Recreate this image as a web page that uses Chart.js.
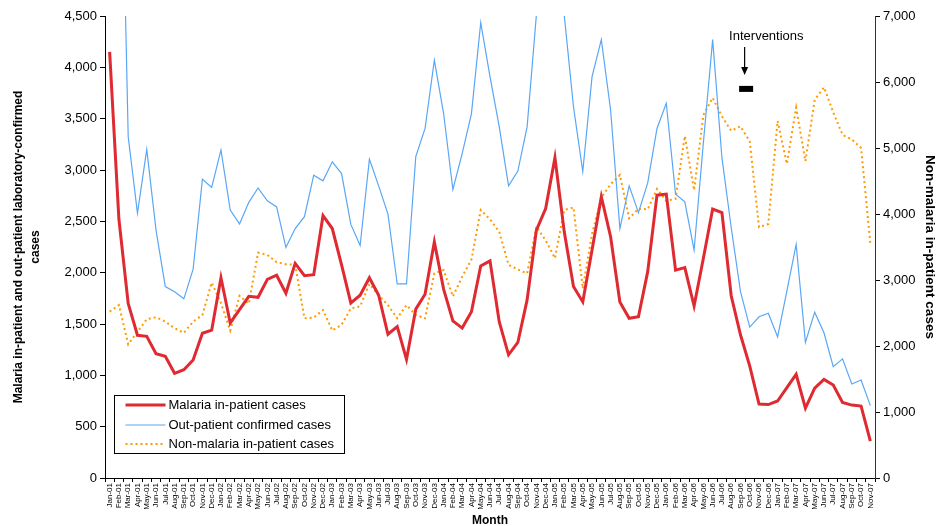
<!DOCTYPE html>
<html>
<head>
<meta charset="utf-8">
<script src="https://cdn.jsdelivr.net/npm/chart.js@4.4.1/dist/chart.umd.min.js"></script>
<style>
  html, body { margin: 0; padding: 0; background: #fff; }
  #wrap { position: relative; width: 938px; height: 526px; }
</style>
</head>
<body>
<div id="wrap"><canvas id="chart" width="938" height="526"></canvas></div>
<script>
// --- Data ---
const months = [
  'Jan-01','Feb-01','Mar-01','Apr-01','May-01','Jun-01','Jul-01','Aug-01','Sep-01','Oct-01','Nov-01','Dec-01',
  'Jan-02','Feb-02','Mar-02','Apr-02','May-02','Jun-02','Jul-02','Aug-02','Sep-02','Oct-02','Nov-02','Dec-02',
  'Jan-03','Feb-03','Mar-03','Apr-03','May-03','Jun-03','Jul-03','Aug-03','Sep-03','Oct-03','Nov-03','Dec-03',
  'Jan-04','Feb-04','Mar-04','Apr-04','May-04','Jun-04','Jul-04','Aug-04','Sep-04','Oct-04','Nov-04','Dec-04',
  'Jan-05','Feb-05','Mar-05','Apr-05','May-05','Jun-05','Jul-05','Aug-05','Sep-05','Oct-05','Nov-05','Dec-05',
  'Jan-06','Feb-06','Mar-06','Apr-06','May-06','Jun-06','Jul-06','Aug-06','Sep-06','Oct-06','Nov-06','Dec-06',
  'Jan-07','Feb-07','Mar-07','Apr-07','May-07','Jun-07','Jul-07','Aug-07','Sep-07','Oct-07','Nov-07'
];

const malariaInpatient = [
  4150, 2520, 1700, 1390, 1380, 1210, 1185, 1020, 1055, 1150, 1410, 1440,
  1950, 1510, 1640, 1770, 1760, 1935, 1975, 1800, 2090, 1970, 1980, 2555,
  2430, 2075, 1705, 1780, 1950, 1780, 1400, 1475, 1155, 1645, 1790, 2300,
  1840, 1530, 1460, 1620, 2065, 2115, 1520, 1200, 1320, 1735, 2415, 2625,
  3120, 2400, 1865, 1715, 2220, 2740, 2350, 1715, 1555, 1570, 2010, 2755,
  2765, 2025, 2050, 1675, 2140, 2620, 2585, 1775, 1395, 1090, 720, 715,
  750, 880, 1010, 680, 875, 960, 905, 735, 710, 700, 360
];

// first values run off the top of the axis in the reference
const outpatientConfirmed = [
  6500, 7450, 3325, 2580, 3200, 2415, 1865, 1815, 1745, 2035, 2910, 2830,
  3195, 2610, 2475, 2685, 2825, 2700, 2640, 2245, 2430, 2545, 2950, 2895,
  3080, 2965, 2470, 2265, 3105, 2845, 2570, 1890, 1890, 3130, 3405, 4070,
  3550, 2810, 3160, 3550, 4435, 3910, 3420, 2845, 2990, 3420, 4510, 4900,
  5100, 4510, 3615, 2985, 3910, 4270, 3585, 2430, 2845, 2585, 2875, 3405,
  3650, 2765, 2690, 2220, 3265, 4270, 3120, 2440, 1815, 1470, 1570, 1605,
  1375, 1820, 2275, 1320, 1615, 1415, 1085, 1160, 915, 955, 705
];

const nonMalariaInpatient = [
  2520, 2620, 2025, 2215, 2405, 2435, 2370, 2270, 2200, 2370, 2470, 2960,
  2650, 2235, 2760, 2640, 3415, 3380, 3270, 3240, 3230, 2420, 2430, 2545,
  2235, 2320, 2570, 2600, 2940, 2770, 2620, 2420, 2620, 2470, 2420, 3100,
  3150, 2750, 3050, 3310, 4060, 3920, 3730, 3230, 3160, 3100, 3810, 3600,
  3330, 4060, 4100, 2870, 3700, 4250, 4450, 4590, 3935, 4080, 4070, 4380,
  4200, 4230, 5180, 4360, 5500, 5760, 5480, 5260, 5330, 5100, 3800, 3850,
  5410, 4760, 5610, 4800, 5730, 5920, 5540, 5200, 5130, 5000, 3550
];

const leftTicks = [0, 500, 1000, 1500, 2000, 2500, 3000, 3500, 4000, 4500];
const rightTicks = [0, 1000, 2000, 3000, 4000, 5000, 6000, 7000];

// annotation anchor: between Sep-06 and Oct-06, at ~3,790 on left axis
const interventionAt = { month: 68.5, value: 3790, label: 'Interventions' };

const FONT = "'Liberation Sans', Arial, sans-serif";
Chart.defaults.font.family = FONT;
Chart.defaults.color = '#000';

const fmt = v => Number(v).toLocaleString('en-US');

// legend box drawn inside the plot, lower left
const legendBox = {
  id: 'legendBox',
  afterDraw(chart) {
    const ctx = chart.ctx, area = chart.chartArea;
    const left = area.left + 9.5, top = area.bottom - 82.5, w = 230, h = 58;
    const rows = [9.5, 29.5, 48.5];
    ctx.save();
    ctx.fillStyle = '#fff';
    ctx.fillRect(left, top, w, h);
    ctx.strokeStyle = '#000';
    ctx.lineWidth = 1;
    ctx.strokeRect(left, top, w, h);
    ctx.font = '13px ' + FONT;
    ctx.textBaseline = 'middle';
    ctx.textAlign = 'left';
    chart.data.datasets.forEach((ds, i) => {
      const y = top + rows[i];
      ctx.beginPath();
      ctx.strokeStyle = ds.borderColor;
      ctx.lineWidth = ds.borderWidth;
      ctx.setLineDash(ds.borderDash || []);
      ctx.moveTo(left + 11, y);
      ctx.lineTo(left + 51, y);
      ctx.stroke();
      ctx.setLineDash([]);
      ctx.fillStyle = '#000';
      ctx.fillText(ds.label, left + 54, y + 0.5);
    });
    ctx.restore();
  }
};

// "Interventions" arrow and bar
const interventions = {
  id: 'interventions',
  afterDraw(chart) {
    const ctx = chart.ctx;
    const bx = chart.scales.x.getPixelForValue(interventionAt.month);
    const by = chart.scales.y.getPixelForValue(interventionAt.value);
    ctx.save();
    ctx.fillStyle = '#000';
    ctx.strokeStyle = '#000';
    ctx.fillRect(bx - 6, by - 3, 14, 6);
    const ax = bx - 0.5;
    ctx.lineWidth = 1.2;
    ctx.beginPath();
    ctx.moveTo(ax, by - 42);
    ctx.lineTo(ax, by - 20);
    ctx.stroke();
    ctx.beginPath();
    ctx.moveTo(ax - 3.5, by - 22);
    ctx.lineTo(ax + 3.5, by - 22);
    ctx.lineTo(ax, by - 14);
    ctx.closePath();
    ctx.fill();
    ctx.font = '13px ' + FONT;
    ctx.textAlign = 'left';
    ctx.textBaseline = 'middle';
    ctx.fillText(interventionAt.label, bx - 16, by - 52);
    ctx.restore();
  }
};

new Chart(document.getElementById('chart'), {
  type: 'line',
  data: {
    labels: months,
    datasets: [
      {
        label: 'Malaria in-patient cases',
        data: malariaInpatient,
        yAxisID: 'y',
        borderColor: '#DE2A30',
        borderWidth: 3,
        pointRadius: 0,
        tension: 0
      },
      {
        label: 'Out-patient confirmed cases',
        data: outpatientConfirmed,
        yAxisID: 'y',
        borderColor: '#5AA6F6',
        borderWidth: 1.2,
        pointRadius: 0,
        tension: 0
      },
      {
        label: 'Non-malaria in-patient cases',
        data: nonMalariaInpatient,
        yAxisID: 'y1',
        borderColor: '#FF9A00',
        borderWidth: 2,
        borderDash: [2, 3],
        pointRadius: 0,
        tension: 0
      }
    ]
  },
  options: {
    responsive: false,
    animation: false,
    layout: { padding: { top: 16, left: 0, right: 0, bottom: 0 } },
    plugins: { legend: { display: false }, tooltip: { enabled: false } },
    scales: {
      x: {
        offset: true,
        grid: { offset: true, drawOnChartArea: false, tickLength: 4, tickColor: '#000' },
        border: { color: '#000', width: 1 },
        ticks: {
          autoSkip: false, maxRotation: 90, minRotation: 90, padding: 1,
          color: '#000', font: { size: 8 }
        },
        title: {
          display: true, text: 'Month', color: '#000',
          font: { size: 12, weight: 'bold' }, padding: { top: 0, bottom: -2 }
        },
        afterFit: s => { s.height = 48; }
      },
      y: {
        position: 'left', min: 0, max: 4500,
        afterBuildTicks: s => { s.ticks = leftTicks.map(v => ({ value: v })); },
        ticks: { color: '#000', font: { size: 13 }, padding: 3, callback: fmt },
        grid: { drawOnChartArea: false, tickLength: 5, tickColor: '#000' },
        border: { color: '#000', width: 1 },
        title: {
          display: true,
          text: ['Malaria in-patient and out-patient laboratory-confirmed', 'cases'],
          color: '#000',
          font: { size: 12, weight: 'bold', lineHeight: 1.4 },
          padding: { top: 10, bottom: 0 }
        },
        afterFit: s => { s.width = 105; }
      },
      y1: {
        position: 'right', min: 0, max: 7000,
        afterBuildTicks: s => { s.ticks = rightTicks.map(v => ({ value: v })); },
        ticks: { color: '#000', font: { size: 13 }, padding: 3, callback: fmt },
        grid: { drawOnChartArea: false, tickLength: 5, tickColor: '#000' },
        border: { color: '#333', width: 1 },
        title: {
          display: true, text: 'Non-malaria in-patient cases', color: '#000',
          font: { size: 13.5, weight: 'bold' }, padding: { top: 0, bottom: 0 }
        },
        afterFit: s => { s.width = 63; }
      }
    }
  },
  plugins: [legendBox, interventions]
});
</script>
</body>
</html>
